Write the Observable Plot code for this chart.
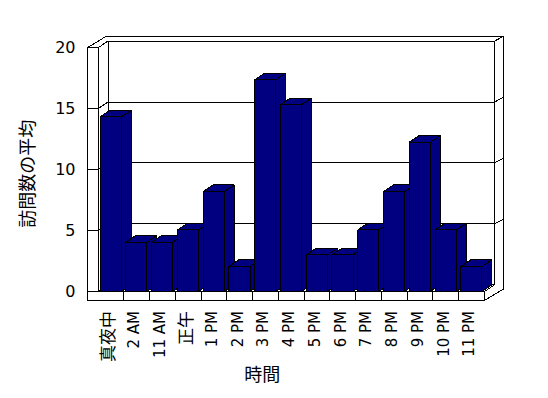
<!DOCTYPE html>
<html><head><meta charset="utf-8">
<script src="https://cdn.jsdelivr.net/npm/d3@7"></script>
<script src="https://cdn.jsdelivr.net/npm/@observablehq/plot@0.6"></script>
<style>body{margin:0;background:#fff}</style>
</head><body><div id="chart"></div>
<script>
// ---- data ----
const categories = ["真夜中","2 AM","11 AM","正午","1 PM","2 PM","3 PM","4 PM","5 PM","6 PM","7 PM","8 PM","9 PM","10 PM","11 PM"];
const values = [14.33, 4.05, 4.05, 5.05, 8.2, 2.05, 17.38, 15.33, 3.0, 3.0, 5.05, 8.2, 12.25, 5.05, 2.05];
const yTicks = [0, 5, 10, 15, 20];
const gridValues = [5, 10, 15];
const xTitle = "時間";
const yTitle = "訪問数の平均";

// ---- layout / 3D projection ----
const W = 548, H = 398, mL = 97.5, mR = 64, mT = 47.3, mB = 107;
const N = categories.length, YMAX = 20;
const KX = (W - mL - mR) / N, KY = (H - mT - mB) / YMAX;
const px = p => p / KX, py = p => p / KY;
const DX = px(10), DY = py(6.7);   // plot depth
const TX = px(9.3), TY = py(5);    // back wall thickness
const WX = px(10.8);               // left wall thickness
const FY = py(9);                  // floor thickness
const A = 0.08, B = 0.9;           // bar extent within band

function poly(id, pts) { return pts.concat([pts[0]]).map(([x, y]) => ({id, x, y})); }

const boxFaces = [
  ...poly("back", [[DX, DY], [N + DX, DY], [N + DX, YMAX + DY], [DX, YMAX + DY]]),
  ...poly("leftInner", [[0, 0], [DX, DY], [DX, YMAX + DY], [0, YMAX]]),
  ...poly("floorTop", [[0, 0], [N, 0], [N + DX, DY], [DX, DY]]),
  ...poly("top", [[-WX, YMAX], [0, YMAX], [DX, YMAX + DY], [N + DX, YMAX + DY], [N + DX + TX, YMAX + DY + TY], [-WX + DX + TX, YMAX + DY + TY]]),
  ...poly("rightEnd", [[N + DX, YMAX + DY], [N + DX + TX, YMAX + DY + TY], [N + DX + TX, -FY + DY + TY], [N, -FY], [N, 0], [N + DX, DY]]),
  ...poly("leftFront", [[-WX, 0], [0, 0], [0, YMAX], [-WX, YMAX]]),
  ...poly("floorFront", [[-WX, -FY], [N, -FY], [N, 0], [-WX, 0]])
];

const grid = gridValues.flatMap(v =>
  [[-WX, v], [0, v], [DX, v + DY], [N + DX, v + DY], [N + DX + TX, v + DY + TY]].map(([x, y]) => ({v, x, y})));

const barFaces = values.flatMap((v, i) => [
  ...poly("f" + i, [[i + A, 0], [i + B, 0], [i + B, v], [i + A, v]]),
  ...poly("t" + i, [[i + A, v], [i + B, v], [i + B + DX, v + DY], [i + A + DX, v + DY]]),
  ...poly("s" + i, [[i + B, 0], [i + B + DX, DY], [i + B + DX, v + DY], [i + B, v]])
]);

const font = "'DejaVu Sans', 'Noto Sans CJK JP', sans-serif";
const isLatin = s => /^[\x00-\x7F]+$/.test(s);

const chart = Plot.plot({
  width: W, height: H,
  marginLeft: mL, marginRight: mR, marginTop: mT, marginBottom: mB,
  x: {domain: [0, N], axis: null},
  y: {domain: [0, YMAX], axis: null},
  style: {fontFamily: font, fontSize: "16px", background: "white", color: "black"},
  marks: [
    Plot.line(boxFaces, {x: "x", y: "y", z: "id", fill: "white", stroke: "black", strokeWidth: 1, strokeLinejoin: "miter", shapeRendering: "crispEdges"}),
    Plot.line(grid, {x: "x", y: "y", z: "v", stroke: "black", strokeWidth: 1, shapeRendering: "crispEdges"}),
    Plot.line(barFaces, {x: "x", y: "y", z: "id", fill: "#000080", stroke: "black", strokeWidth: 1, strokeLinejoin: "miter", shapeRendering: "crispEdges"}),
    Plot.ruleX(d3.range(1, N), {x: d => d, y1: 0, y2: -FY, stroke: "black", shapeRendering: "crispEdges"}),
    Plot.text(yTicks, {x: 0, y: d => d, text: d => String(d), textAnchor: "end", dx: -22.5, fontSize: 16, fill: "black"}),
    Plot.text(categories, {x: (d, i) => i + 0.5, y: 0, text: d => d, rotate: -90, textAnchor: "end", dx: -2, dy: 19.5, fontSize: d => isLatin(d) ? 15 : 17, fill: "black"}),
    Plot.text([yTitle], {x: 0, y: 10, text: d => d, rotate: -90, dx: -69.5, dy: 4, fontSize: 18, fill: "black"}),
    Plot.text([xTitle], {x: N / 2, y: 0, text: d => d, dx: -29, dy: 84, fontSize: 18, fill: "black"})
  ]
});
document.getElementById("chart").appendChild(chart);
</script>
</body></html>
